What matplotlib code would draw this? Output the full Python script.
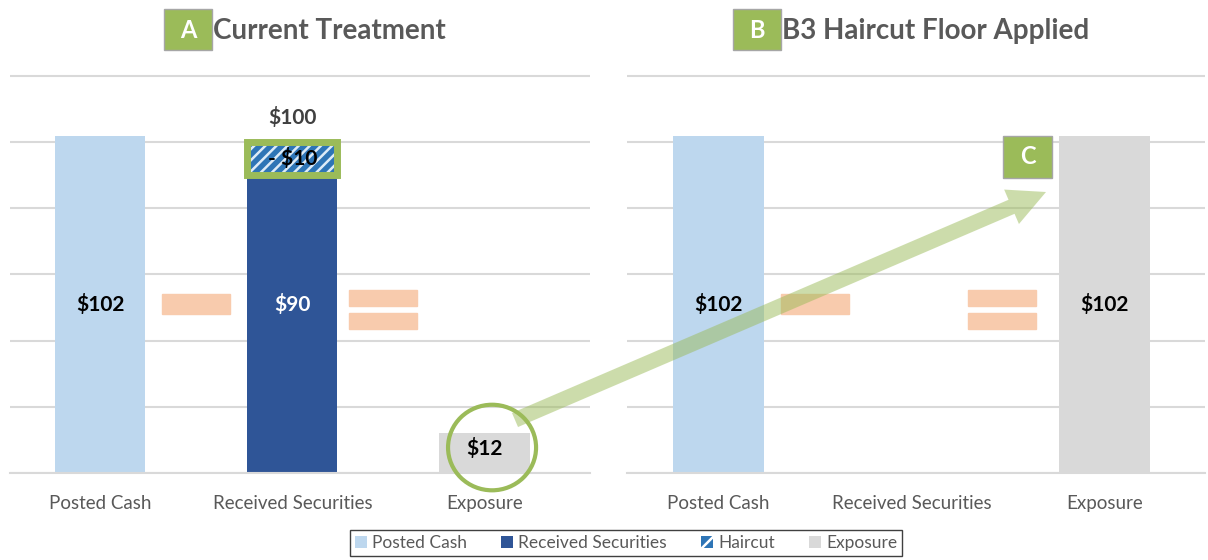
import matplotlib.pyplot as plt
from matplotlib.patches import Rectangle, Ellipse, FancyArrowPatch, Patch

plt.rcParams['font.family'] = ['Lato', 'DejaVu Sans']
plt.rcParams['hatch.linewidth'] = 1.8

# data
categories = ['Posted Cash', 'Received Securities', 'Exposure']
panel_titles = ['Current Treatment', 'B3 Haircut Floor Applied']
panel_letters = ['A', 'B']
posted_cash = [102, 102]
received_securities = [90, 0]
haircut = [10, 0]
exposure = [12, 102]

# colours
cash_color = '#BDD7EE'
sec_color = '#2F5597'
haircut_color = '#2E75B6'
exp_color = '#D9D9D9'
grid_color = '#D9D9D9'
green = '#9BBB59'
sign_color = '#F8CBAD'
text_gray = '#595959'

W, H = 1208, 560
fig = plt.figure(figsize=(W / 100, H / 100), dpi=100)
axA = fig.add_axes([10 / W, 87 / H, 580 / W, 399 / H])
axB = fig.add_axes([627 / W, 87 / H, 578 / W, 399 / H])
axes = [axA, axB]
xlims = [(-0.47, 2.55), (-0.474, 2.52)]
bw = 0.47

for i, ax in enumerate(axes):
    ax.bar(0, posted_cash[i], width=bw, color=cash_color, zorder=2)
    if received_securities[i] > 0:
        ax.bar(1, received_securities[i], width=bw, color=sec_color, zorder=2)
        ax.bar(1, haircut[i], bottom=received_securities[i], width=bw,
               color=haircut_color, hatch='///', edgecolor='#DDEBF7', linewidth=0, zorder=2)
        ax.bar(1, haircut[i], bottom=received_securities[i], width=bw,
               fill=False, edgecolor=green, linewidth=5, zorder=3)
    ax.bar(2, exposure[i], width=bw, color=exp_color, zorder=2)

    ax.set_ylim(0, 120.6)
    ax.set_xlim(*xlims[i])
    ax.set_yticks(range(0, 121, 20))
    ax.yaxis.grid(True, color=grid_color, linewidth=1.5)
    ax.set_axisbelow(True)
    ax.tick_params(left=False, labelleft=False, bottom=False, pad=12)
    ax.set_xticks(range(3))
    ax.set_xticklabels(categories, fontsize=13.5, color=text_gray)
    for s in ['top', 'left', 'right']:
        ax.spines[s].set_visible(False)
    ax.spines['bottom'].set_color(grid_color)
    ax.spines['bottom'].set_linewidth(1.5)

    # minus and equals signs
    ax.add_patch(Rectangle((0.5 - 0.177, 48), 0.354, 6.2, color=sign_color, zorder=4))
    ax.add_patch(Rectangle((1.47 - 0.177, 50.5), 0.354, 4.8, color=sign_color, zorder=4))
    ax.add_patch(Rectangle((1.47 - 0.177, 43.6), 0.354, 4.8, color=sign_color, zorder=4))

    ax.text(0, 51, '$%d' % posted_cash[i], ha='center', va='center',
            fontsize=15, fontweight='bold', color='black', zorder=5)

# panel A labels
axA.text(1, 51, '$%d' % received_securities[0], ha='center', va='center',
         fontsize=15, fontweight='bold', color='white', zorder=5)
axA.text(1, received_securities[0] + haircut[0] / 2, '- $%d' % haircut[0], ha='center',
         va='center', fontsize=15, fontweight='bold', color='black', zorder=5)
axA.text(1, received_securities[0] + haircut[0] + 7.5, '$%d' % (received_securities[0] + haircut[0]),
         ha='center', va='center', fontsize=15, fontweight='bold', color='#404040', zorder=5)
axA.text(2, 7.3, '$%d' % exposure[0], ha='center', va='center',
         fontsize=15, fontweight='bold', color='black', zorder=5)
axA.add_patch(Ellipse((2.04, 7.7), 2 * 44 / 192, 2 * 43 / 66.5 * 20, fill=False,
                      edgecolor=green, linewidth=3, zorder=6, clip_on=False))

# panel B label
axB.text(2, 51, '$%d' % exposure[1], ha='center', va='center',
         fontsize=15, fontweight='bold', color='black', zorder=5)

# titles with letter boxes
title_boxes = [(164, 9), (733, 9)]
for (bx, by), letter, title in zip(title_boxes, panel_letters, panel_titles):
    fig.add_artist(Rectangle((bx / W, 1 - (by + 41) / H), 48 / W, 41 / H,
                             facecolor=green, edgecolor='#A6A6A6', linewidth=1,
                             transform=fig.transFigure))
    fig.text((bx + 24) / W, 1 - (by + 21) / H, letter, ha='center', va='center',
             fontsize=17, fontweight='bold', color='white')
    fig.text((bx + 49) / W, 1 - (by + 22) / H, title, ha='left', va='center',
             fontsize=20, fontweight='bold', color=text_gray)

# box C
fig.add_artist(Rectangle((1003 / W, 1 - 178 / H), 49 / W, 42 / H, facecolor=green,
                         edgecolor='#A6A6A6', linewidth=1, transform=fig.transFigure, zorder=10))
fig.text(1027.5 / W, 1 - 157 / H, 'C', ha='center', va='center', fontsize=17,
         fontweight='bold', color='white', zorder=11)

# arrow from exposure circle to C
arrow = FancyArrowPatch((515 / W, 1 - 420 / H), (1046 / W, 1 - 192 / H),
                        transform=fig.transFigure,
                        arrowstyle='simple,head_length=27,head_width=27,tail_width=11',
                        color=green, alpha=0.5, linewidth=0, shrinkA=0, shrinkB=0, zorder=9)
fig.add_artist(arrow)

# legend
handles = [Patch(facecolor=cash_color), Patch(facecolor=sec_color),
           Patch(facecolor=haircut_color, hatch='//', edgecolor='white', linewidth=0),
           Patch(facecolor=exp_color)]
labels = ['Posted Cash', 'Received Securities', 'Haircut', 'Exposure']
leg = fig.legend(handles, labels, loc='center', bbox_to_anchor=(626 / W, 1 - 543 / H),
                 ncol=4, frameon=True, fancybox=False, edgecolor='#404040',
                 handlelength=0.7, handleheight=0.7, handletextpad=0.3,
                 columnspacing=1.95, fontsize=12.5, labelcolor=text_gray,
                 borderpad=0.3, borderaxespad=0, framealpha=1)
leg.get_frame().set_linewidth(1)

fig.savefig('out.png', dpi=100)
